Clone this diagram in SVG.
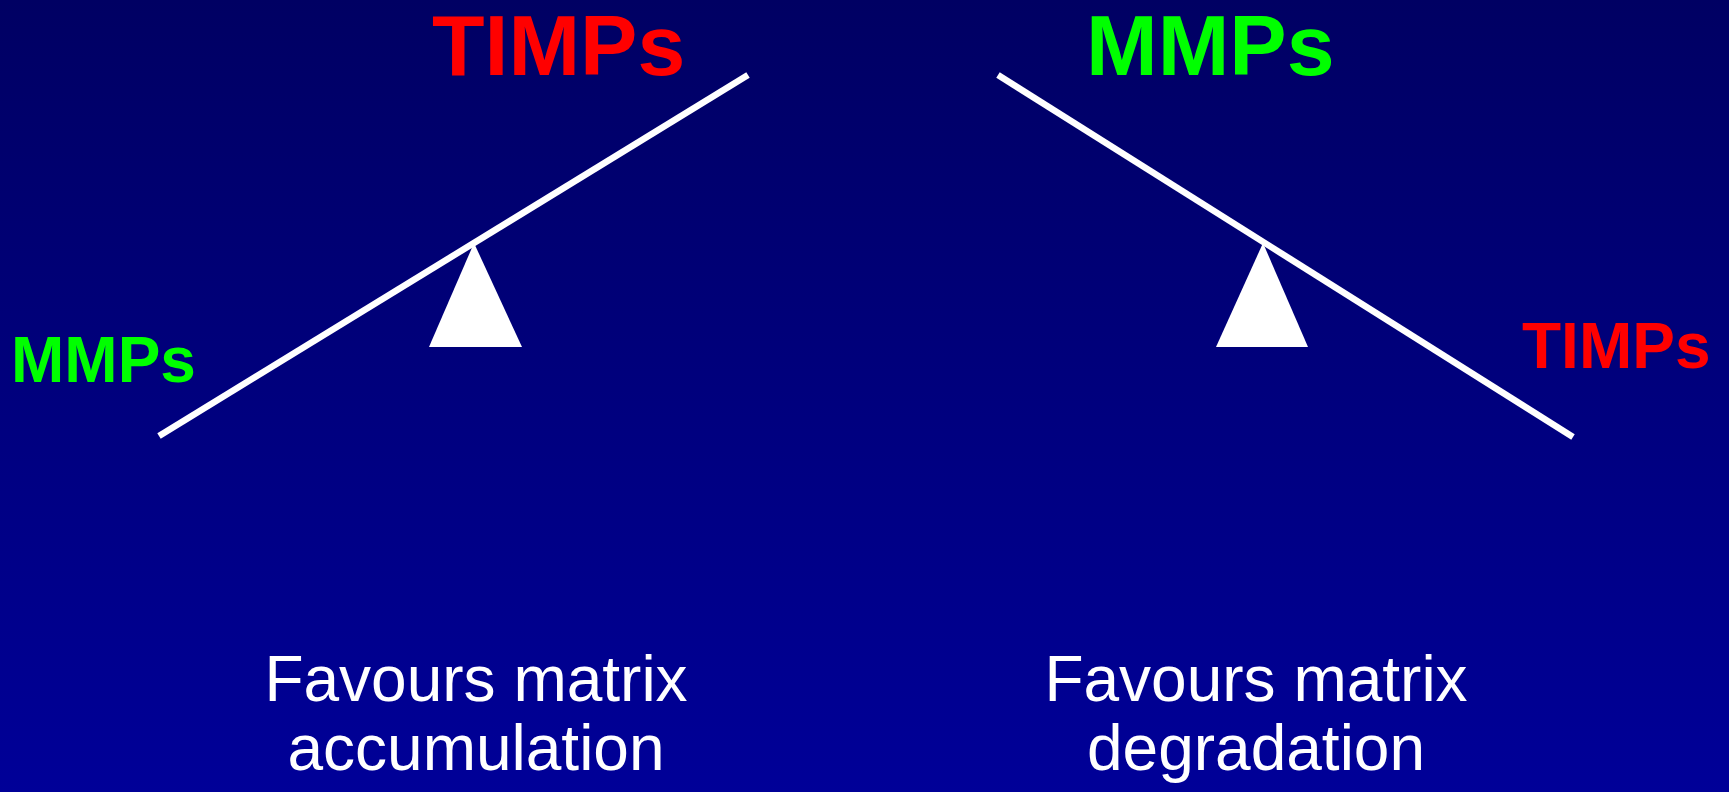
<svg xmlns="http://www.w3.org/2000/svg" width="1729" height="792" viewBox="0 0 1729 792">
<defs>
<linearGradient id="bg" x1="0" y1="0" x2="0" y2="1">
<stop offset="0" stop-color="#000063"/>
<stop offset="1" stop-color="#000098"/>
</linearGradient>
<style>
.lbl{font-family:"Liberation Sans",Arial,sans-serif;font-weight:bold;text-anchor:start}
.red{fill:#FF0000}
.green{fill:#00FF00}
.cap{font-family:"Liberation Sans",Arial,sans-serif;font-size:64px;fill:#FFFFFF;text-anchor:middle}
.beam{stroke:#FFFFFF;stroke-width:6.5;fill:none}
.fulcrum{fill:#FFFFFF}
</style>
</defs>
<rect width="1729" height="792" fill="url(#bg)"/>
<g id="connectors">
<line class="beam" x1="159" y1="436" x2="748" y2="75"/>
<line class="beam" x1="998" y1="75" x2="1573" y2="437"/>
</g>
<g id="fulcrum-left"><polygon class="fulcrum" points="474,243 522,347 429,347"/></g>
<g id="fulcrum-right"><polygon class="fulcrum" points="1263,243 1308,347 1216,347"/></g>
<g id="timps-top"><text class="lbl red" x="432" y="75" font-size="86">TIMPs</text></g>
<g id="mmps-top"><text class="lbl green" x="1086" y="75" font-size="86">MMPs</text></g>
<g id="mmps-left"><text class="lbl green" x="11" y="382" font-size="64">MMPs</text></g>
<g id="timps-right"><text class="lbl red" x="1522" y="368" font-size="64">TIMPs</text></g>
<g id="caption-left">
<text class="cap" x="476" y="701">Favours matrix</text>
<text class="cap" x="476" y="770">accumulation</text>
</g>
<g id="caption-right">
<text class="cap" x="1256" y="701">Favours matrix</text>
<text class="cap" x="1256" y="770">degradation</text>
</g>
</svg>
